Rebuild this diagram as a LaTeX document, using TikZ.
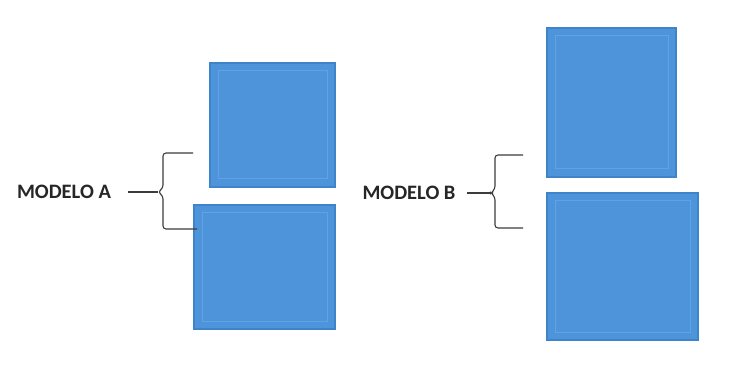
\documentclass[tikz,border=0pt]{standalone}
\usepackage{fontspec}
\setmainfont{Carlito}
\definecolor{tileblue}{RGB}{78,148,218}
\definecolor{tileedge}{RGB}{62,132,202}
\definecolor{tileinner}{RGB}{96,162,226}
\definecolor{brk}{RGB}{60,60,60}
\tikzset{
  tile/.style={draw=tileedge, line width=1.2pt, fill=tileblue},
  tileline/.style={draw=tileinner, line width=1pt},
  lbl/.style={font=\fontsize{20.5}{22}\selectfont\bfseries, text=black!85, inner sep=0pt},
  brace/.style={draw=brk, line width=1.1pt, rounded corners=3pt},
}
\begin{document}
\begin{tikzpicture}[x=1pt,y=-1pt]
\useasboundingbox (0,0) rectangle (755,366);
\fill[white] (0,0) rectangle (755,366);
% squares
\path[tile] (210,63) rectangle (335,187);
\path[tileline] (218,71) rectangle (327,179);
\node[inner sep=0pt, minimum width=125pt, minimum height=124pt] (a1) at (272.5,125) {};
\path[tile] (194,205) rectangle (335,329);
\path[tileline] (202,213) rectangle (327,321);
\node[inner sep=0pt, minimum width=141pt, minimum height=124pt] (a2) at (264.5,267) {};
\path[tile] (547,28) rectangle (676,177);
\path[tileline] (555,36) rectangle (668,169);
\node[inner sep=0pt, minimum width=129pt, minimum height=149pt] (b1) at (611.5,102.5) {};
\path[tile] (547,193) rectangle (698,340);
\path[tileline] (555,201) rectangle (690,332);
\node[inner sep=0pt, minimum width=151pt, minimum height=147pt] (b2) at (622.5,266.5) {};
% labels
\node[lbl] (la) at (64,192) {MODELO A};
\node[lbl] (lb) at (409,193) {MODELO B};
% bracket A
\coordinate (sa) at (128,192);
\coordinate (ta) at (158,192);
\coordinate (at) at (193,153);
\coordinate (ab) at (197,229);
\draw[brace] (at) -- (163,153) -- (163,188) -- (ta) -- (163,196) -- (163,229) -- (ab);
\draw[draw=brk, line width=1.1pt] (sa) -- (ta);
% bracket B
\coordinate (sb) at (467,193);
\coordinate (tb) at (491,193);
\coordinate (bt) at (523,155);
\coordinate (bb) at (523,228);
\draw[brace] (bt) -- (495,155) -- (495,189) -- (tb) -- (495,197) -- (495,228) -- (bb);
\draw[draw=brk, line width=1.1pt] (sb) -- (tb);
\end{tikzpicture}
\end{document}
